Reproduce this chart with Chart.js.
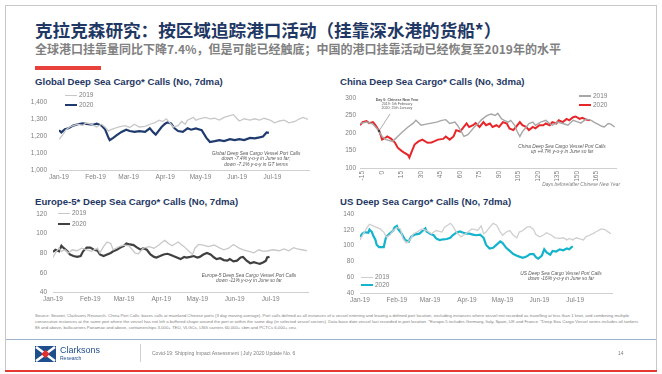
<!DOCTYPE html>
<html>
<head>
<meta charset="utf-8">
<script src="https://cdn.jsdelivr.net/npm/chart.js@4.4.0/dist/chart.umd.min.js"></script>
<style>
body { margin:0; width:662px; height:374px; background:#fff; position:relative; overflow:hidden; font-family:"Liberation Sans", Arial, sans-serif; }
.abs { position:absolute; }
.frame { left:5px; top:5px; width:650px; height:366px; border:1px solid #c8c8c8; border-bottom:none; }
.title { left:35px; top:18px; font-family:"Noto Sans CJK SC", sans-serif; font-weight:700; font-size:17.6px; color:#1f3864; white-space:nowrap; line-height:24px; }
.sub { left:35px; top:41px; font-family:"Noto Sans CJK SC", sans-serif; font-weight:700; font-size:12px; color:#808080; white-space:nowrap; line-height:16px; }
.ctitle { font-weight:700; font-size:9.6px; color:#1f3864; white-space:nowrap; line-height:12px; }
.leg { font-size:6.5px; color:#7f7f7f; display:flex; align-items:center; line-height:8px; white-space:nowrap; }
.leg span { display:inline-block; width:12px; margin-right:2px; }
.note { font-size:4.8px; font-style:italic; color:#595959; text-align:center; line-height:5.4px; white-space:nowrap; }
.src { left:35px; top:313px; width:605px; font-size:4.3px; line-height:6px; color:#7f7f7f; }
</style>
</head>
<body>
<div class="abs frame"></div>
<div class="abs title">克拉克森研究：按区域追踪港口活动（挂靠深水港的货船*）</div>
<div class="abs sub">全球港口挂靠量同比下降7.4%，但是可能已经触底；中国的港口挂靠活动已经恢复至2019年的水平</div>
<div class="abs" style="left:35px;top:66px;width:66px;height:4px;background:#e8403a"></div>

<div class="abs ctitle" style="left:35px;top:76px">Global Deep Sea Cargo* Calls (No, 7dma)</div>
<div class="abs ctitle" style="left:340px;top:76px">China Deep Sea Cargo* Calls (No, 3dma)</div>
<div class="abs ctitle" style="left:35px;top:196px">Europe-5* Deep Sea Cargo* Calls (No, 7dma)</div>
<div class="abs ctitle" style="left:340px;top:196px">US Deep Sea Cargo* Calls (No, 7dma)</div>

<div class="abs" style="left:20px;top:86px;width:294px;height:100px"><canvas id="cGlobal"></canvas></div>
<div class="abs" style="left:325px;top:90px;width:295px;height:91px"><canvas id="cChina"></canvas></div>
<div class="abs" style="left:15px;top:203.5px;width:298px;height:100.5px"><canvas id="cEurope"></canvas></div>
<div class="abs" style="left:322px;top:204px;width:295px;height:101px"><canvas id="cUS"></canvas></div>

<div class="abs leg" style="left:65px;top:91px"><span style="height:1px;background:#c8c8c8"></span>2019</div>
<div class="abs leg" style="left:65px;top:101px"><span style="height:2.2px;background:#1f3a6e"></span>2020</div>
<div class="abs leg" style="left:579px;top:92px"><span style="height:1.3px;background:#a6a6a6"></span>2019</div>
<div class="abs leg" style="left:579px;top:101px"><span style="height:2.2px;background:#e8262a"></span>2020</div>
<div class="abs leg" style="left:58px;top:209px"><span style="height:1px;background:#c8c8c8"></span>2019</div>
<div class="abs leg" style="left:58px;top:220px"><span style="height:2.2px;background:#404040"></span>2020</div>
<div class="abs leg" style="left:361px;top:273px"><span style="height:1px;background:#cfcfcf"></span>2019</div>
<div class="abs leg" style="left:361px;top:281px"><span style="height:2.2px;background:#14b4cc"></span>2020</div>

<div class="abs note" style="left:206px;top:151px;width:100px">Global Deep Sea Cargo Vessel Port Calls<br>down -7.4% y-o-y in June so far;<br>down -7.1% y-o-y in GT terms</div>
<div class="abs note" style="left:512px;top:144px;width:100px">China Deep Sea Cargo Vessel Port Calls<br>up +4.7% y-o-y in June so far</div>
<div class="abs note" style="left:196px;top:273px;width:106px">Europe-5 Deep Sea Cargo Vessel Port Calls<br>down -11% y-o-y in June so far</div>
<div class="abs note" style="left:511px;top:271px;width:100px">US Deep Sea Cargo Vessel Port Calls<br>down -16% y-o-y in June so far</div>
<div class="abs note" style="left:370px;top:98px;width:54px;font-size:3.6px;line-height:4px;font-style:normal"><b>Day 0: Chinese New Year</b><br>2019: 5th February<br>2020: 25th January</div>
<svg class="abs" style="left:370px;top:110px" width="30" height="26"><line x1="20" y1="4" x2="9" y2="21" stroke="#8c8c8c" stroke-width="0.7"/><circle cx="9" cy="21" r="1.2" fill="#404040"/></svg>
<div class="abs" style="left:500px;top:182px;width:120px;font-size:4.8px;font-style:italic;color:#7f7f7f;text-align:right">Days before/after Chinese New Year</div>

<div class="abs src">Source: Seanet, Clarksons Research. China Port Calls: bases calls at mainland Chinese ports (3 day moving average). Port calls defined as all instances of a vessel entering and leaving a defined port location, excluding instances where vessel not recorded as travelling at less than 1 knot, and combining multiple consecutive instances at the same port where the vessel has not left a buffered shape around the port or within the same day (in selected vessel sectors). Data base date vessel last recorded in port location. *Europe-5 includes Germany, Italy, Spain, UK and France. *Deep Sea Cargo Vessel series includes oil tankers 8ft and above, bulkcarriers Panamax and above, containerships 3,000+ TEU, VLGCs, LNG carriers 60,000+ cbm and PCTCs 6,000+ ceu.</div>
<div class="abs" style="left:6px;top:339px;width:650px;height:1px;background:#9fb3cc"></div>
<svg class="abs" style="left:35px;top:346px" width="21" height="16">
  <rect width="21" height="16" fill="#1f4e8c"/>
  <path d="M1 1 L20 15 M20 1 L1 15" stroke="#fff" stroke-width="2.5"/>
  <rect x="7.5" y="5" width="6" height="6" fill="#e03030" transform="rotate(45 10.5 8)"/>
</svg>
<div class="abs" style="left:60px;top:345px;font-size:9px;color:#1f4e8c;line-height:10px">Clarksons</div>
<div class="abs" style="left:60px;top:355px;font-size:5px;color:#1f4e8c;line-height:6px">Research</div>
<div class="abs" style="left:140px;top:344px;width:1px;height:18px;background:#d0d0d0"></div>
<div class="abs" style="left:152px;top:350px;font-size:5px;color:#7f7f7f;white-space:nowrap">Covid-19: Shipping Impact Assessment | July 2020 Update No. 6</div>
<div class="abs" style="left:618px;top:350px;font-size:5px;color:#7f7f7f">14</div>
<div class="abs" style="left:5px;top:370px;width:652px;height:2px;background:#e53935"></div>

<script>
// x axis ticks
const monthTicks = [0, 31, 59, 90, 120, 151, 181];
const monthLabels = ['Jan-19', 'Feb-19', 'Mar-19', 'Apr-19', 'May-19', 'Jun-19', 'Jul-19'];
const chinaTicks = [-15, 0, 15, 30, 45, 60, 75, 90, 105, 120, 135, 150, 165];
const chinaLabels = ['-15', '0', '15', '30', '45', '60', '75', '90', '105', '120', '135', '150', '165'];

// Global (day of year, 7dma)
const globalDays2019 = [0,3,6,9,12,16,20,23,27,32,36,39,42,44,47,51,56,60,64,68,73,77,81,85,88,91,94,97,101,104,107,109,114,116,119,124,128,132,136,140,145,148,151,153,157,162,166,170,174,179,183,187,191,195,200,204,207,211];
const global2019 = [1181,1205,1237,1253,1261,1269,1261,1277,1269,1253,1269,1253,1229,1237,1245,1253,1261,1250,1269,1253,1256,1269,1277,1293,1285,1301,1277,1253,1261,1285,1269,1293,1309,1293,1301,1309,1301,1304,1293,1309,1320,1325,1301,1288,1301,1293,1301,1293,1304,1293,1277,1288,1293,1277,1285,1301,1309,1298];
const globalDays2020 = [0,2,5,8,12,16,20,25,29,32,36,39,42,43,46,49,53,57,60,64,68,73,77,80,82,87,90,92,95,98,101,105,109,112,116,121,125,128,132,136,140,145,149,153,157,162,166,170,173,176,178];
const global2020 = [1234,1221,1240,1245,1261,1269,1274,1269,1266,1272,1261,1240,1189,1176,1189,1205,1224,1237,1229,1224,1229,1224,1245,1221,1208,1253,1272,1280,1274,1245,1229,1224,1245,1237,1245,1234,1189,1165,1170,1176,1170,1181,1176,1181,1176,1189,1186,1192,1197,1221,1218];

// China (days before/after Chinese New Year, 3dma)
const chinaDays2019 = [-17,-12,-7,-3,0,3,8,12,16,20,24,26,30,34,38,42,46,49,52,56,58,61,63,66,69,71,74,76,79,81,84,87,89,92,94,97,99,102,104,106,108,111,113,116,118,122,126,129,131,135,139,143,147,151,153,157,161,163,166,169,171,174,176,179];
const china2019 = [227,231,225,208,190,181,176,190,204,217,228,236,222,225,228,231,236,238,227,231,222,204,190,195,208,217,227,236,245,250,254,250,256,240,236,231,236,222,204,190,204,217,227,231,222,231,236,227,222,231,227,222,236,231,228,240,236,231,225,219,217,227,225,217];
const chinaDays2020 = [-17,-15,-12,-10,-7,-5,-2,0,2,4,7,10,12,15,17,20,21,23,25,28,31,35,38,40,43,47,49,52,55,57,60,62,65,67,70,72,75,78,80,83,85,88,90,93,96,98,101,103,106,108,111,113,116,118,121,124,126,129,131,134,136,139,142,144,147,149,152,154,157,160];
const china2020 = [222,231,234,228,231,222,204,181,185,190,183,172,158,149,144,137,130,149,167,176,181,172,173,176,181,183,190,181,190,208,204,213,227,217,222,228,217,231,222,227,217,222,217,231,227,213,208,217,231,222,217,208,217,213,222,222,227,222,231,227,236,231,240,236,245,247,240,243,238,236];

// Europe-5 (day of year, 7dma)
const europeDays2019 = [0,2,5,7,10,13,16,20,24,28,32,37,39,42,45,48,50,55,59,63,66,68,71,75,80,84,88,91,93,96,99,102,104,109,113,116,118,121,125,129,134,138,142,146,150,154,158,163,167,171,175,179,183,188,192,196,200,203,207,211];
const europe2019 = [75.6,80.3,85.1,81.9,83.5,80.3,83.5,82.5,85.1,83.5,81.9,85.1,80.3,86.7,91.4,89.8,83.5,86.7,88.3,87.6,83.5,80.3,79.4,85.1,86.7,85.1,88.3,91.4,93,89.8,87.6,89.8,91.4,86.7,81.9,78.7,85.1,88.9,88.3,86.7,88.3,85.7,83.5,85.1,88.9,85.7,83.5,81.9,80.3,83.5,81.9,82.5,83.5,82.5,84.4,82.5,85.7,84.4,83.5,82.5];
const europeDays2020 = [0,2,5,7,9,12,14,17,20,23,25,28,31,34,37,39,42,45,48,50,53,56,59,61,64,67,70,73,75,78,81,84,86,89,92,95,97,100,103,106,109,111,114,117,120,122,125,128,131,134,136,139,142,145,147,150,153,156,158,161,164,167,170,172,175,177,178,180];
const europe2020 = [81.3,83.5,81.9,87.6,85.1,81.9,78.7,77.1,76.2,77.1,81.9,85.7,85.7,83.5,82.5,78.7,77.1,78.7,80.3,81.9,83.5,85.7,87.6,89.8,88.9,88.3,85.7,83.5,85.1,83.5,78.7,76.2,75.6,77.1,78.7,79.4,78.7,77.1,75.6,74,76.2,75.6,76.2,77.1,75.6,76.2,78.7,80.3,78.7,75.6,74,74.9,73,72.4,74,71.7,72.4,75.6,76.2,72.4,69.8,70.8,69.8,69.2,70.8,72.4,75.6,76.2];

// US (day of year, 7dma)
const usDays2019 = [0,3,6,8,11,14,17,20,22,25,28,31,34,36,39,42,45,48,52,56,60,64,69,71,76,78,81,85,90,94,97,99,102,104,106,109,112,115,118,120,123,126,129,132,134,137,140,143,146,148,151,154,157,161,164,168,171,174,176,179,182,185,188,190,193,196,199,203,206,209,211];
const us2019 = [107.1,115,122.9,126.9,124.9,122.9,121,117,111,113,119,122.9,121,109,103.1,107.1,115,117,121,119,115,119,117,122.9,128.1,124.9,117,111,116.2,121,120.2,119,124.9,115,117,122.9,128.1,125.7,117,113,117,119,113,109.8,117,119,122.9,124.1,120.2,113.8,111,113,116.2,113,109.8,109,109.8,107.1,109,107.1,109.8,108.3,107.1,111,113,115,117.8,121,120.2,117,115];
const usDays2020 = [0,2,4,7,8,10,11,13,14,16,20,21,22,25,28,29,31,32,35,38,41,43,46,50,53,55,56,59,62,64,67,70,73,76,78,81,84,87,90,92,95,98,101,104,106,109,112,115,118,120,123,126,129,132,134,137,140,143,146,148,150,153,155,157,160,162,165,168,171,174,176,178,179];
const us2020 = [111,115,117,116.2,120.2,117,113,107,101.1,98,98,105.1,111,115,119,122.9,124.9,121,115,107,105.1,111,113.8,115,119,121.7,117.8,115,113,109,107,107.9,108.3,109.8,113,116.2,117.8,116.2,115,115,113.8,113,113.8,109.8,101.1,96.3,97.1,101.1,105.1,103.1,97.1,93.2,89.2,87.2,86,84.4,86,89.2,89.2,85.2,83.3,87.2,95.2,91.2,88.4,93.2,92.4,95.2,94,96.3,95.2,97.9,99.1];

Chart.defaults.font.family = "'Liberation Sans', Arial, sans-serif";
Chart.defaults.color = '#7f7f7f';

function pts(days, vals) {
    return days.map((d, i) => ({ x: d, y: vals[i] }));
}

function lineChart(id, c) {
    return new Chart(document.getElementById(id), {
        type: 'line',
        data: {
            datasets: c.sets.map(s => ({
                data: s.data,
                borderColor: s.color,
                borderWidth: s.width,
                pointRadius: 0,
                tension: 0
            }))
        },
        options: {
            responsive: true,
            maintainAspectRatio: false,
            animation: false,
            layout: { padding: c.pad },
            plugins: { legend: { display: false }, tooltip: { enabled: false } },
            scales: {
                x: {
                    type: 'linear',
                    min: c.xmin,
                    max: c.xmax,
                    afterBuildTicks: a => { a.ticks = c.xticks.map(v => ({ value: v })); },
                    afterFit: a => { a.height = c.xh; },
                    grid: { display: false, drawTicks: false },
                    border: { color: '#d0d0d0', width: 1 },
                    ticks: {
                        autoSkip: false,
                        minRotation: c.rot,
                        maxRotation: c.rot,
                        padding: 3,
                        font: { size: 6.5 },
                        callback: (v, i) => c.xlabels[i]
                    }
                },
                y: {
                    min: c.ymin,
                    max: c.ymax,
                    afterFit: a => { a.width = c.yw; },
                    grid: { display: false, drawTicks: false },
                    border: { display: false },
                    ticks: {
                        stepSize: c.step,
                        padding: c.ypad,
                        font: { size: 6.5 },
                        callback: v => v.toLocaleString('en-US')
                    }
                }
            }
        }
    });
}

lineChart('cGlobal', {
    pad: { top: 5, right: 5, left: 0, bottom: 0 },
    xmin: 0, xmax: 212, xticks: monthTicks, xlabels: monthLabels, rot: 0, xh: 12,
    ymin: 1000, ymax: 1400, step: 100, yw: 39, ypad: 12,
    sets: [
        { data: pts(globalDays2019, global2019), color: '#c8c8c8', width: 1.3 },
        { data: pts(globalDays2020, global2020), color: '#1f3a6e', width: 2.2 }
    ]
});

lineChart('cChina', {
    pad: { top: 5, right: 4, left: 0, bottom: 0 },
    xmin: -17, xmax: 180, xticks: chinaTicks, xlabels: chinaLabels, rot: 90, xh: 13,
    ymin: 100, ymax: 300, step: 50, yw: 35, ypad: 4,
    sets: [
        { data: pts(chinaDays2019, china2019), color: '#a6a6a6', width: 1.4 },
        { data: pts(chinaDays2020, china2020), color: '#e8262a', width: 2 }
    ]
});

lineChart('cEurope', {
    pad: { top: 5, right: 5, left: 0, bottom: 0 },
    xmin: 0, xmax: 212, xticks: monthTicks, xlabels: monthLabels, rot: 0, xh: 12,
    ymin: 40, ymax: 120, step: 20, yw: 38, ypad: 6,
    sets: [
        { data: pts(europeDays2019, europe2019), color: '#c8c8c8', width: 1.3 },
        { data: pts(europeDays2020, europe2020), color: '#404040', width: 2.2 }
    ]
});

lineChart('cUS', {
    pad: { top: 5, right: 5, left: 0, bottom: 0 },
    xmin: 0, xmax: 212, xticks: monthTicks, xlabels: monthLabels, rot: 0, xh: 12,
    ymin: 40, ymax: 140, step: 20, yw: 38, ypad: 6,
    sets: [
        { data: pts(usDays2019, us2019), color: '#cfcfcf', width: 1.3 },
        { data: pts(usDays2020, us2020), color: '#14b4cc', width: 2.2 }
    ]
});
</script>
</body>
</html>
